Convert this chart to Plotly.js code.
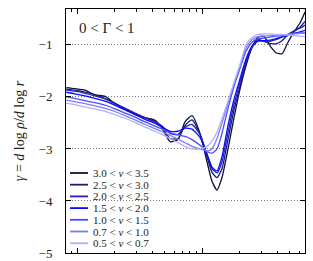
<!DOCTYPE html>
<html><head><meta charset="utf-8">
<script src="https://cdn.plot.ly/plotly-3.0.1.min.js"></script>
<style>html,body{margin:0;padding:0;background:#fff}#chart{width:313px;height:261px}</style>
</head><body><div id="chart"></div>
<script>
var radius = [0.082,0.096,0.116,0.139,0.168,0.201,0.242,0.291,0.350,0.421,0.479,0.555,0.643,0.731,0.832,0.964,1.097,1.202,1.318,1.445,1.614,1.803,2.014,2.249,2.512,2.805,3.133,3.500,3.908,4.365,4.875,5.445,6.081,6.668];
var labels = ["3.0 &lt; <i>ν</i> &lt; 3.5","2.5 &lt; <i>ν</i> &lt; 3.0","2.0 &lt; <i>ν</i> &lt; 2.5","1.5 &lt; <i>ν</i> &lt; 2.0","1.0 &lt; <i>ν</i> &lt; 1.5","0.7 &lt; <i>ν</i> &lt; 1.0","0.5 &lt; <i>ν</i> &lt; 0.7"];
var colors = ["#10103a","#1c1c72","#2323bc","#0a0aff","#4a4aff","#7c7cff","#b0b0ff"];
var gammaNu30_35 = [-1.82,-1.84,-1.87,-1.96,-1.99,-2.13,-2.24,-2.33,-2.40,-2.45,-2.60,-2.86,-2.82,-2.48,-2.36,-2.70,-3.25,-3.62,-3.79,-3.55,-3.00,-2.40,-1.85,-1.40,-1.05,-0.85,-0.84,-1.02,-1.15,-1.17,-0.95,-0.75,-0.58,-0.37];
var gammaNu25_30 = [-1.85,-1.87,-1.91,-1.96,-2.03,-2.12,-2.22,-2.32,-2.40,-2.47,-2.58,-2.80,-2.80,-2.55,-2.44,-2.72,-3.15,-3.45,-3.55,-3.38,-2.82,-2.25,-1.80,-1.36,-1.05,-0.90,-0.93,-0.97,-0.98,-0.92,-0.80,-0.73,-0.66,-0.55];
var gammaNu20_25 = [-1.87,-1.89,-1.93,-1.98,-2.04,-2.13,-2.22,-2.31,-2.40,-2.48,-2.56,-2.70,-2.72,-2.58,-2.53,-2.72,-3.10,-3.38,-3.46,-3.25,-2.68,-2.15,-1.72,-1.32,-1.04,-0.93,-0.92,-0.93,-0.90,-0.85,-0.80,-0.74,-0.68,-0.62];
var gammaNu15_20 = [-1.91,-1.94,-1.98,-2.03,-2.08,-2.16,-2.25,-2.34,-2.43,-2.51,-2.58,-2.66,-2.66,-2.60,-2.62,-2.78,-3.10,-3.35,-3.42,-3.15,-2.55,-2.05,-1.65,-1.27,-1.02,-0.92,-0.92,-0.91,-0.88,-0.84,-0.82,-0.78,-0.75,-0.72];
var gammaNu10_15 = [-2.00,-2.03,-2.07,-2.11,-2.16,-2.23,-2.31,-2.39,-2.48,-2.56,-2.62,-2.69,-2.73,-2.76,-2.82,-2.93,-3.05,-3.08,-3.00,-2.70,-2.22,-1.80,-1.45,-1.12,-0.95,-0.88,-0.87,-0.85,-0.83,-0.82,-0.80,-0.78,-0.77,-0.77];
var gammaNu07_10 = [-2.06,-2.09,-2.13,-2.17,-2.22,-2.28,-2.36,-2.44,-2.53,-2.61,-2.67,-2.74,-2.81,-2.88,-2.95,-3.00,-3.04,-3.00,-2.80,-2.50,-2.12,-1.75,-1.40,-1.06,-0.90,-0.84,-0.83,-0.82,-0.82,-0.81,-0.80,-0.79,-0.78,-0.78];
var gammaNu05_07 = [-2.12,-2.15,-2.19,-2.23,-2.28,-2.34,-2.41,-2.49,-2.58,-2.66,-2.72,-2.80,-2.88,-2.95,-3.00,-3.00,-2.95,-2.85,-2.68,-2.42,-2.08,-1.72,-1.38,-1.00,-0.86,-0.80,-0.79,-0.79,-0.80,-0.80,-0.81,-0.82,-0.83,-0.84];
var series = [gammaNu30_35,gammaNu25_30,gammaNu20_25,gammaNu15_20,gammaNu10_15,gammaNu07_10,gammaNu05_07];
var yTicks = [-5,-4,-3,-2,-1];
var yTickText = ["−5","−4","−3","−2","−1"];
var xMajor = [0.1, 1];
var xMinor = [0.09,0.2,0.3,0.4,0.5,0.6,0.7,0.8,0.9,2,3,4,5,6];

var serif = "Liberation Serif, DejaVu Serif, serif";
var traces = series.map(function(s,i){
  return {x: radius, y: s, type:'scatter', mode:'lines', name: labels[i],
    line:{color: colors[i], width: 1.3, shape:'spline', smoothing:0.55}, showlegend:false, hoverinfo:'skip'};
});
var L=66, R=305, T=9, B=253, W=R-L, H=B-T;
function px(x){return (x-L)/W;} function py(y){return (B-y)/H;}
var shapes = [], annotations = [];
labels.forEach(function(lab,i){
  var yy = 173 + i*11.7;
  shapes.push({type:'line', xref:'paper', yref:'paper', x0:px(70), x1:px(88), y0:py(yy), y1:py(yy), line:{color:colors[i], width:1.8}});
  annotations.push({xref:'paper', yref:'paper', x:px(91), y:py(yy), xanchor:'left', yanchor:'middle', text:lab, showarrow:false, font:{family:serif, size:11, color:'#222'}});
});
annotations.push({xref:'paper', yref:'paper', x:px(77), y:py(28), xanchor:'left', yanchor:'middle', text:'0 &lt; Γ &lt; 1', showarrow:false, font:{family:serif, size:15, color:'#222'}});

var layout = {
  width:313, height:261, margin:{l:L, r:313-R, t:T, b:261-B},
  paper_bgcolor:'#fff', plot_bgcolor:'#fff', showlegend:false,
  xaxis:{type:'log', range:[-1.088,0.824], tickvals:xMajor, showticklabels:false, ticks:'inside', ticklen:5, tickcolor:'#000', tickwidth:1,
    minor:{tickvals:xMinor, ticks:'inside', ticklen:2.5, tickcolor:'#000', showgrid:false},
    showgrid:false, zeroline:false, showline:true, linecolor:'#000', linewidth:1, mirror:'allticks'},
  yaxis:{range:[-5,-0.31], tickvals:yTicks, ticktext:yTickText, ticks:'inside', ticklen:5, tickcolor:'#000',
    showgrid:true, gridcolor:'#777', griddash:'1px,2px', gridwidth:1, zeroline:false, showline:true, linecolor:'#000', linewidth:1, mirror:'allticks',
    ticklabelstandoff:10, tickfont:{family:serif, size:13, color:'#222'},
    title:{text:'<i>γ</i> = <i>d</i> log <i>ρ</i>/<i>d</i> log <i>r</i>', font:{family:serif, size:14, color:'#222'}, standoff:10}},
  shapes:shapes, annotations:annotations
};
Plotly.newPlot('chart', traces, layout, {staticPlot:true, displayModeBar:false});
</script></body></html>
